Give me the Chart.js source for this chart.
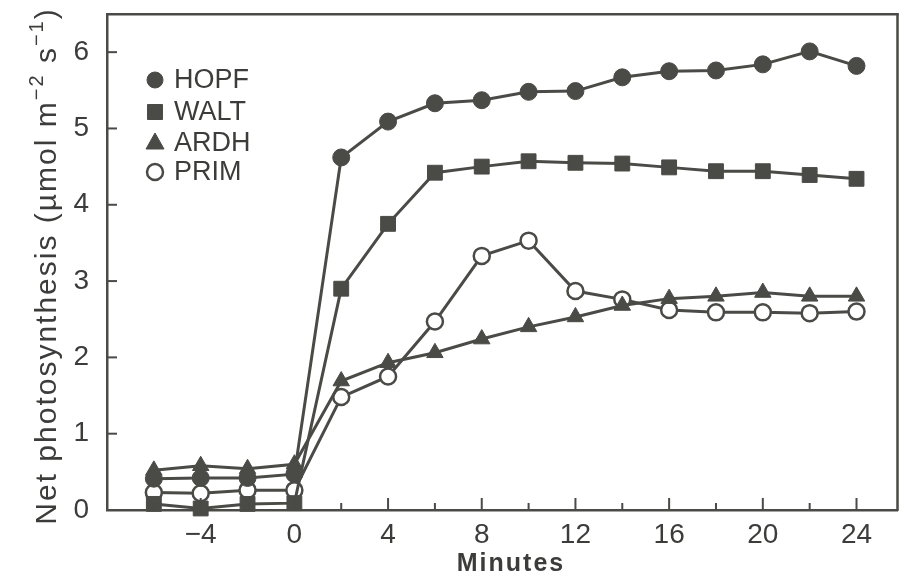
<!DOCTYPE html>
<html>
<head>
<meta charset="utf-8">
<title>Net photosynthesis</title>
<script src="https://cdn.jsdelivr.net/npm/chart.js@4.4.0/dist/chart.umd.min.js"></script>
<style>
  html, body { margin: 0; padding: 0; background: #fff; }
  #wrap { width: 909px; height: 587px; }
</style>
</head>
<body>
<div id="wrap"><canvas id="photoChart" width="909" height="587"></canvas></div>
<script>
// Values
const minutes = [-6, -4, -2, 0, 2, 4, 6, 8, 10, 12, 14, 16, 18, 20, 22, 24];
const hopf = [0.41, 0.42, 0.42, 0.47, 4.62, 5.09, 5.33, 5.37, 5.48, 5.49, 5.67, 5.75, 5.76, 5.84, 6.01, 5.82];
const walt = [0.08, 0.02, 0.08, 0.09, 2.90, 3.75, 4.42, 4.50, 4.57, 4.55, 4.54, 4.49, 4.44, 4.44, 4.39, 4.34];
const ardh = [0.52, 0.58, 0.54, 0.60, 1.69, 1.93, 2.06, 2.24, 2.40, 2.53, 2.68, 2.77, 2.80, 2.85, 2.80, 2.80];
const prim = [0.23, 0.22, 0.26, 0.26, 1.48, 1.75, 2.47, 3.33, 3.53, 2.87, 2.76, 2.62, 2.59, 2.59, 2.58, 2.60];
const xMajorTicks = [-4, 0, 4, 8, 12, 16, 20, 24];
const xMinorTicks = [-6, -2, 2, 6, 10, 14, 18, 22];
const yTicks = [0, 1, 2, 3, 4, 5, 6];

const ink = '#4a4a46';
const textInk = '#3c3c3a';
const family = '"Liberation Sans", Arial, Helvetica, sans-serif';
Chart.defaults.font.family = family;

const toPoints = vals => minutes.map((m, i) => ({ x: m, y: vals[i] }));

function series(label, vals, style, radius, fill) {
    return {
        label: label,
        data: toPoints(vals),
        borderColor: ink,
        borderWidth: 3,
        backgroundColor: fill,
        pointStyle: style,
        pointRadius: radius,
        pointHoverRadius: radius,
        pointBackgroundColor: fill,
        pointBorderColor: ink,
        pointBorderWidth: fill === '#fff' ? 2.5 : 1,
        tension: 0,
        clip: false
    };
}

// small marker painter for the legend
function marker(ctx, style, x, y, fill) {
    ctx.beginPath();
    if (style === 'circle') {
        ctx.arc(x, y, 8, 0, Math.PI * 2);
    } else if (style === 'rect') {
        ctx.rect(x - 7.5, y - 7.5, 15, 15);
    } else {
        ctx.moveTo(x, y - 10);
        ctx.lineTo(x + 9, y + 6);
        ctx.lineTo(x - 9, y + 6);
        ctx.closePath();
    }
    ctx.fillStyle = fill;
    ctx.fill();
    ctx.lineWidth = fill === '#fff' ? 2.5 : 1;
    ctx.strokeStyle = ink;
    ctx.stroke();
}

// frame, inward ticks, legend and axis titles
const decorations = {
    id: 'decorations',
    afterDraw(chart) {
        const ctx = chart.ctx;
        const a = chart.chartArea;
        const xs = chart.scales.x, ys = chart.scales.y;
        ctx.save();
        ctx.fillStyle = ink;
        // top and right edges of the box
        ctx.fillRect(a.left - 1, a.top - 1, a.right - a.left + 2, 2.5);
        ctx.fillRect(a.right - 1.25, a.top - 1, 2.5, a.bottom - a.top + 2);
        // ticks pointing into the plot
        xMajorTicks.forEach(v => {
            const px = xs.getPixelForValue(v);
            ctx.fillRect(px - 1, a.bottom - 12, 2, 12);
        });
        xMinorTicks.forEach(v => {
            const px = xs.getPixelForValue(v);
            ctx.fillRect(px - 1, a.bottom - 7, 2, 7);
        });
        yTicks.forEach(v => {
            const py = ys.getPixelForValue(v);
            ctx.fillRect(a.left, py - 1, 10, 2);
        });

        // legend
        const rows = [80, 112, 143, 172];
        ctx.font = '27px ' + family;
        ctx.textBaseline = 'middle';
        ctx.textAlign = 'left';
        chart.data.datasets.forEach((ds, i) => {
            marker(ctx, ds.pointStyle, 155, rows[i], ds.pointBackgroundColor);
            ctx.fillStyle = textInk;
            ctx.fillText(ds.label, 174, rows[i] + 1);
        });

        // x title
        ctx.letterSpacing = '2px';
        ctx.font = 'bold 25px ' + family;
        ctx.textAlign = 'center';
        ctx.textBaseline = 'alphabetic';
        ctx.fillText('Minutes', 511, 571);

        // y title with superscripts
        const parts = [
            { t: 'Net photosynthesis (µmol m', sup: false },
            { t: '−2', sup: true },
            { t: ' s', sup: false },
            { t: '−1', sup: true },
            { t: ')', sup: false }
        ];
        const big = '30px ' + family, small = '20px ' + family;
        let total = 0;
        parts.forEach(p => { ctx.font = p.sup ? small : big; p.w = ctx.measureText(p.t).width; total += p.w; });
        ctx.translate(56, 266);
        ctx.rotate(-Math.PI / 2);
        ctx.textAlign = 'left';
        let cx = -total / 2;
        parts.forEach(p => {
            ctx.font = p.sup ? small : big;
            ctx.fillText(p.t, cx, p.sup ? -13 : 0);
            cx += p.w;
        });
        ctx.restore();
    }
};

new Chart(document.getElementById('photoChart'), {
    type: 'line',
    data: {
        datasets: [
            series('HOPF', hopf, 'circle', 8.5, ink),
            series('WALT', walt, 'rect', 10.5, ink),
            series('ARDH', ardh, 'triangle', 9.5, ink),
            series('PRIM', prim, 'circle', 8, '#fff')
        ]
    },
    options: {
        responsive: false,
        animation: false,
        layout: { padding: { left: 0, right: 4, top: 14, bottom: 0 } },
        plugins: { legend: { display: false }, tooltip: { enabled: false } },
        scales: {
            x: {
                type: 'linear',
                min: -8,
                max: 25.75,
                afterBuildTicks: s => { s.ticks = xMajorTicks.map(v => ({ value: v })); },
                afterFit: s => { s.height = 77; s.paddingLeft = 0; s.paddingRight = 0; },
                grid: { display: false, drawTicks: false },
                border: { display: true, color: ink, width: 2.5 },
                ticks: {
                    color: textInk,
                    font: { size: 28 },
                    padding: 8,
                    maxRotation: 0,
                    autoSkip: false,
                    callback: v => v < 0 ? '−' + Math.abs(v) : String(v)
                }
            },
            y: {
                min: 0,
                max: 6.5,
                afterBuildTicks: s => { s.ticks = yTicks.map(v => ({ value: v })); },
                afterFit: s => { s.width = 107; s.paddingTop = 0; s.paddingBottom = 0; },
                grid: { display: false, drawTicks: false },
                border: { display: true, color: ink, width: 2.5 },
                ticks: { color: textInk, font: { size: 28 }, padding: 18, autoSkip: false }
            }
        }
    },
    plugins: [decorations]
});
</script>
</body>
</html>
